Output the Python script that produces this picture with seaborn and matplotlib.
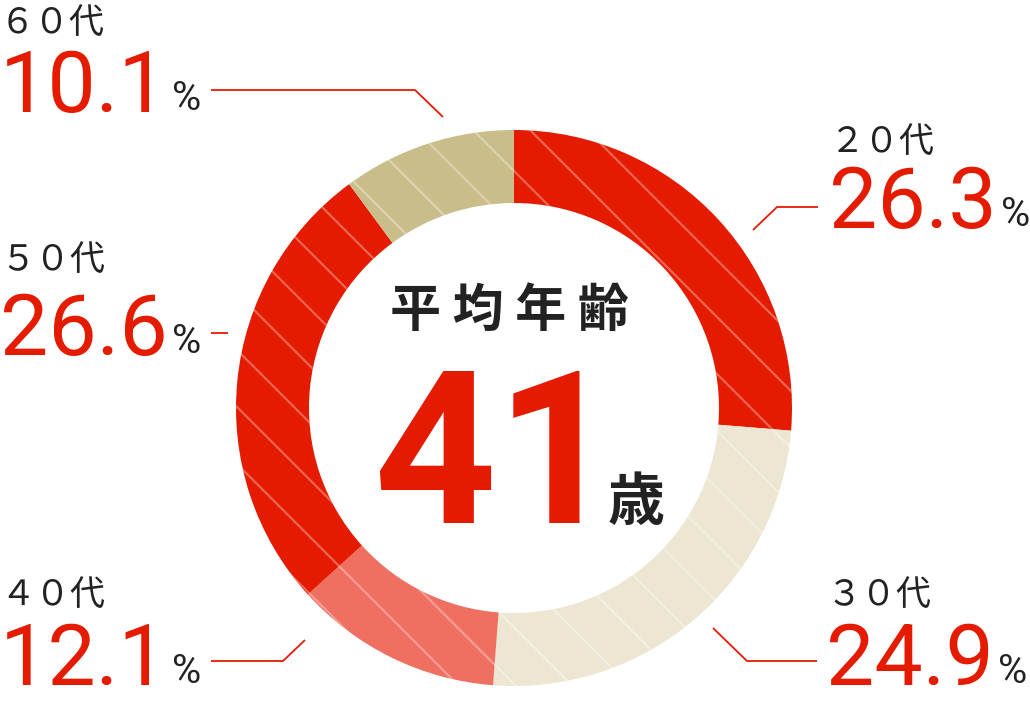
import matplotlib
matplotlib.use("Agg")
import numpy as np
import matplotlib.pyplot as plt
import seaborn as sns
from matplotlib.collections import LineCollection

# data
groups = ["２０代", "３０代", "４０代", "５０代", "６０代"]
shares = [26.3, 24.9, 12.1, 26.6, 10.1]
avg_age = 41

sns.set_theme(style="white")

RED = "#e51b00"
DARK = "#222222"
palette = sns.color_palette([RED, "#ede6d2", "#ef6f60", RED, "#c9bd8a"])

NUM_FONT = "Roboto"
plt.rcParams["font.family"] = ["Noto Sans CJK JP", "DejaVu Sans"]

DPI = 172
W, H = 1030, 704
PX = 72 / DPI  # points per pixel

fig = plt.figure(figsize=(W / DPI, H / DPI), dpi=DPI)
ax = fig.add_axes([0, 0, 1, 1])

cx, cy, R, ring = 514, 408, 278, 73
wedges, _ = ax.pie(
    shares,
    colors=palette,
    startangle=-90,
    counterclock=True,
    center=(cx, cy),
    radius=R,
    wedgeprops=dict(width=ring, linewidth=0),
    frame=True,
)
ax.set_xlim(0, W)
ax.set_ylim(H, 0)
ax.set_aspect("equal")
ax.axis("off")

# thin white diagonal stripes over the ring
offs = np.arange(-1000, 800, 57) + 30
segs = [[(0, b), (W, W + b)] for b in offs]
for w in wedges:
    lc = LineCollection(segs, colors=[(1, 1, 1, 0.33)], linewidths=2.2 * PX)
    ax.add_collection(lc)
    lc.set_clip_path(w)

# label layout: (label x, label baseline, value x, value baseline, leader line)
layout = {
    "２０代": (830, 152, 829, 228, [(753, 230), (777, 207), (818, 207)]),
    "３０代": (826, 605, 826, 685, [(713, 628), (747, 661), (817, 661)]),
    "４０代": (0, 605, 0, 685, [(198, 661), (283, 661), (305, 640)]),
    "５０代": (0, 270, 0, 355, [(205, 333), (228, 333)]),
    "６０代": (0, 33, 0, 112, [(182, 90), (415, 90), (443, 117)]),
}

for g, v in zip(groups, shares):
    lx, ly, vx, vy, line = layout[g]
    ax.text(lx, ly, g, fontsize=35 * PX, color=DARK, ha="left", va="baseline")
    t = ax.text(vx, vy, f"{v:.1f}", fontsize=86 * PX, color=RED, ha="left",
                va="baseline", family=NUM_FONT)
    fig.canvas.draw()
    bb = t.get_window_extent().transformed(ax.transData.inverted())
    p = ax.text(bb.x1 + 4, vy - 2, "%", fontsize=40 * PX, color=DARK, ha="left",
                va="baseline", family=NUM_FONT)
    xs, ys = map(list, zip(*line))
    if lx < W / 2:
        # keep the leader clear of the % sign on the left side
        fig.canvas.draw()
        pb = p.get_window_extent().transformed(ax.transData.inverted())
        xs[0] = max(xs[0], pb.x1 + 10)
    ax.plot(xs, ys, color=RED, lw=1.8 * PX, solid_capstyle="butt")

# centre text
ax.text(509, 326, "平 均 年 齢", fontsize=51 * PX, color=DARK, ha="center",
        va="baseline", weight="bold")
ax.text(496, 523, str(avg_age), fontsize=214 * PX, color=RED, ha="center",
        va="baseline", weight="bold", family=NUM_FONT)
ax.text(636, 520, "歳", fontsize=57 * PX, color=DARK, ha="center",
        va="baseline", weight="bold")

fig.savefig("out.png", dpi=DPI, facecolor="white")
